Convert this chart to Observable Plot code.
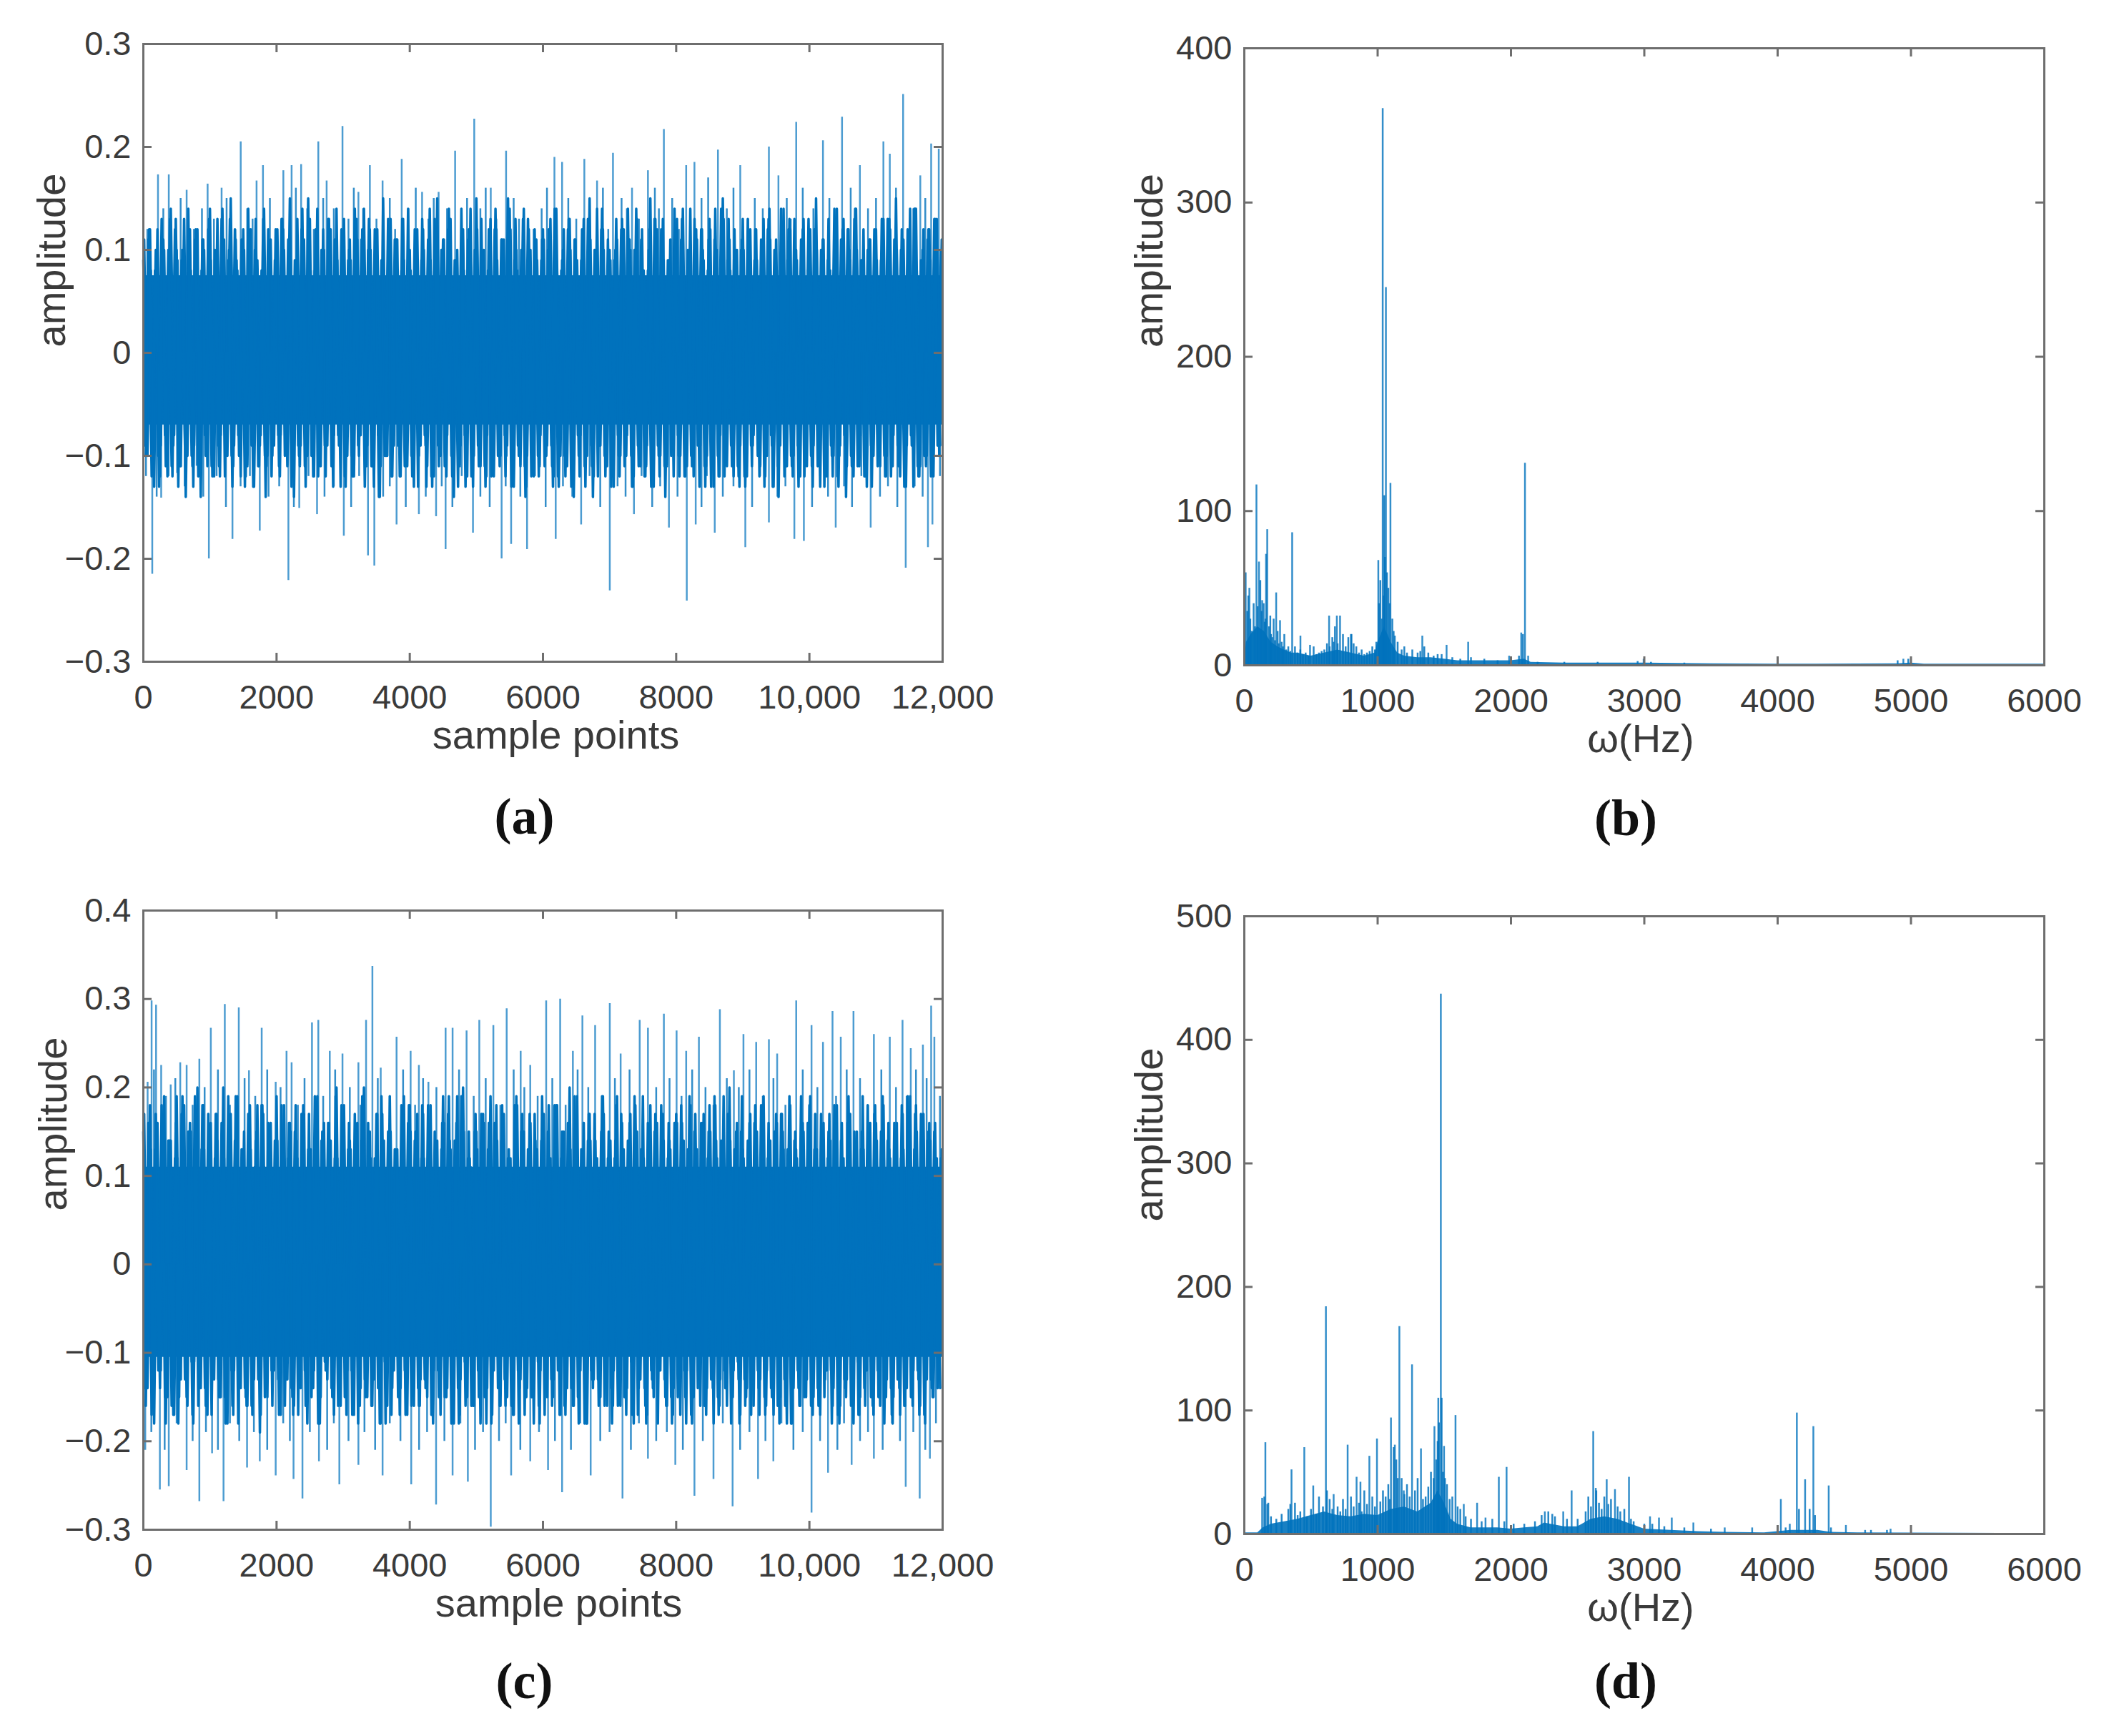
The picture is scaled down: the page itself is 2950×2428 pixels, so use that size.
<!DOCTYPE html>
<html><head><meta charset="utf-8">
<script src="https://cdn.jsdelivr.net/npm/d3@7"></script>
<script src="https://cdn.jsdelivr.net/npm/@observablehq/plot@0.6"></script>
<style>
html,body{margin:0;padding:0;background:#fff}
body{width:2950px;height:2428px;position:relative;overflow:hidden}
.panel{position:absolute}
</style></head><body>
<div id="pa" class="panel" style="left:0;top:0"></div>
<div id="pb" class="panel" style="left:1475px;top:0"></div>
<div id="pc" class="panel" style="left:0;top:1214px"></div>
<div id="pd" class="panel" style="left:1475px;top:1214px"></div>
<script>
// ---------- tick values ----------
const timeTicksX = [0, 2000, 4000, 6000, 8000, 10000, 12000];
const freqTicksX = [0, 1000, 2000, 3000, 4000, 5000, 6000];
const aTicksY = [-0.3, -0.2, -0.1, 0, 0.1, 0.2, 0.3];
const cTicksY = [-0.3, -0.2, -0.1, 0, 0.1, 0.2, 0.3, 0.4];
const bTicksY = [0, 100, 200, 300, 400];
const dTicksY = [0, 100, 200, 300, 400, 500];

// ---------- (a) time signal ----------
// decimated waveforms, one value per 50 samples, in hundredths of amplitude;
// the four traces are read at sample offsets 0, 12, 25 and 37 within each 50-sample step
const waveStep = 50;
const waveOffsets = [0, 12, 25, 37];
const aWave = [
 9,-8,12,-10,8,-12,11,-7,13,-9,10,-11,7,-9,12,-13,9,-8,11,-10,
 14,-9,8,-12,10,-7,13,-11,9,-10,12,-8,11,-13,8,-9,13,-11,10,-8,
 9,-12,12,-9,15,-10,8,-11,11,-8,13,-12,9,-10,12,-7,10,-13,14,-9,
 8,-10,11,-12,13,-8,9,-11,12,-9,10,-14,15,-10,8,-9,11,-12,13,-8,
 10,-11,9,-9,12,-13,14,-10,8,-8,11,-12,13,-9,9,-11,12,-10,10,-13,
 15,-9,9,-12,11,-8,12,-11,8,-10,14,-12,10,-9,13,-13,9,-8,11,-11,
 12,-10,8,-13,14,-9,10,-11,13,-8,9,-12,11,-10,15,-14,8,-9,12,-11,
 10,-8,13,-12,9,-10,11,-13,14,-9,8,-11,12,-8,10,-12,13,-10,9,-9,
 11,-12,14,-10,8,-9,12,-13,10,-11,13,-8,9,-12,15,-10,11,-9,8,-13,
 13,-11,10,-9,12,-12,9,-10,14,-13,11,-8,8,-11,13,-12,10,-9,12,-10,
 9,-13,15,-11,11,-9,8,-12,13,-10,12,-14,10,-8,14,-11,9,-12,11,-10,
 12,-9,10,-12,13,-11,15,-10,9,-13,11,-9,14,-12,10,-11,12,-8,9,-10];
const aWave3 = [
 11,-10,8,-13,12,-9,10,-12,14,-8,9,-11,13,-10,8,-9,12,-14,10,-11,
 9,-12,13,-8,11,-10,15,-9,8,-12,10,-11,12,-13,9,-8,14,-10,11,-9,
 12,-8,10,-11,9,-14,13,-9,11,-10,8,-12,14,-11,10,-9,12,-8,9,-13,
 13,-10,9,-12,11,-8,14,-9,10,-13,12,-11,8,-10,13,-9,11,-12,9,-11,
 8,-13,12,-9,10,-11,9,-12,15,-10,11,-8,13,-14,10,-9,8,-12,14,-10,
 12,-11,10,-8,13,-12,9,-10,11,-9,12,-13,8,-11,14,-10,10,-12,9,-8,
 11,-9,13,-12,8,-10,12,-11,10,-14,9,-8,13,-10,11,-12,14,-9,10,-11,
 9,-13,11,-10,12,-8,10,-12,13,-11,8,-9,15,-13,12,-10,9,-11,11,-12,
 13,-10,8,-11,14,-12,11,-9,9,-10,12,-13,10,-8,13,-11,8,-12,10,-9,
 10,-12,12,-8,9,-11,13,-10,11,-13,8,-9,14,-11,12,-10,9,-12,13,-11,
 12,-9,10,-13,11,-12,8,-10,14,-9,13,-11,9,-12,10,-8,12,-13,11,-10,
 9,-11,13,-10,12,-8,10,-12,11,-9,14,-13,8,-11,12,-10,9,-12,13,-9];
const aWave2 = [
 -9,11,-12,8,-10,13,-8,10,-11,12,-13,9,-9,14,-10,11,-12,8,-8,12,
 -11,10,-9,13,-12,9,-10,12,-8,11,-13,14,-9,10,-11,8,-10,12,-12,9,
 -8,13,-10,11,-13,9,-9,12,-11,15,-10,8,-12,10,-9,13,-11,11,-8,12,
 -12,9,-10,14,-9,11,-13,10,-11,12,-8,9,-10,13,-12,11,-9,8,-11,14,
 -10,12,-13,9,-8,11,-12,13,-9,10,-11,12,-10,9,-13,14,-8,11,-12,10,
 -9,13,-11,8,-12,12,-10,11,-8,15,-13,9,-9,10,-11,13,-12,12,-10,9,
 -11,10,-9,14,-12,8,-10,12,-13,11,-8,9,-11,13,-9,10,-12,12,-10,11,
 -13,9,-8,12,-11,14,-10,10,-9,11,-12,8,-13,13,-9,12,-11,9,-10,14,
 -8,11,-12,10,-10,13,-9,12,-11,8,-13,11,-10,14,-12,9,-9,12,-11,10,
 -12,13,-9,9,-10,11,-13,12,-8,10,-11,14,-12,9,-10,13,-9,11,-12,8,
 -10,12,-11,10,-13,9,-9,14,-12,11,-8,12,-10,13,-11,9,-12,10,-9,12,
 -11,9,-10,13,-12,11,-9,10,-13,12,-8,14,-11,9,-10,11,-12,13,-9,10];
const aWave4 = [
 -10,12,-9,10,-13,11,-11,8,-12,13,-8,10,-14,9,-11,12,-9,11,-10,13,
 -12,9,-11,14,-8,10,-13,11,-10,9,-12,12,-9,13,-11,8,-14,10,-10,12,
 -11,13,-8,10,-12,9,-10,14,-13,11,-9,12,-11,8,-12,13,-10,10,-9,11,
 -13,10,-12,9,-10,12,-8,13,-11,11,-14,9,-10,12,-12,8,-9,13,-11,10,
 -12,11,-10,13,-9,8,-13,12,-11,10,-8,14,-12,9,-10,11,-13,12,-9,10,
 -11,9,-13,12,-10,14,-9,11,-12,8,-11,13,-10,10,-14,12,-8,9,-12,11,
 -9,12,-11,10,-13,9,-12,13,-8,11,-10,12,-13,9,-11,10,-9,14,-12,8,
 -12,10,-10,13,-9,11,-13,8,-11,12,-12,10,-9,13,-10,11,-14,9,-8,12,
 -10,13,-12,9,-11,10,-8,12,-13,11,-10,14,-12,8,-9,13,-11,10,-12,11,
 -13,9,-11,12,-10,10,-12,13,-9,8,-14,11,-10,12,-11,9,-13,10,-8,13,
 -11,12,-9,10,-12,13,-10,8,-13,11,-9,12,-11,14,-10,9,-12,10,-13,11,
 -10,13,-12,9,-8,11,-11,12,-13,10,-9,14,-12,8,-10,12,-11,13,-9,11];
const aCore = [ // [sample, low, high] of the solid centre of the band
 [0,-0.07,0.075],[4000,-0.07,0.075],[8000,-0.07,0.075],[12000,-0.07,0.075]];
const aPeaksUp = [[220,0.173],[382,0.173],[650,0.158],[965,0.164],[1175,0.160],[1462,0.205],[1700,0.167],[1796,0.182],
 [2102,0.177],[2226,0.182],[2369,0.183],[2627,0.205],[2752,0.167],[2990,0.220],[3229,0.156],[3401,0.182],[3592,0.167],
 [3879,0.188],[4185,0.156],[4433,0.156],[4681,0.196],[4968,0.227],[5216,0.160],[5446,0.196],[5713,0.132],[6172,0.190],
 [6287,0.185],[6621,0.188],[6812,0.167],[7051,0.194],[7337,0.160],[7576,0.177],[7815,0.217],[8150,0.182],[8274,0.185],
 [8627,0.197],[8962,0.182],[9392,0.200],[9535,0.172],[9802,0.224],[10204,0.206],[10490,0.229],[10758,0.182],[11111,0.205],
 [11207,0.193],[11407,0.251],[11665,0.172],[11828,0.203],[11942,0.198]];
const aPeaksDown = [[134,-0.215],[268,-0.141],[506,-0.117],[984,-0.200],[1338,-0.181],[1748,-0.173],[2178,-0.221],
 [2341,-0.151],[2608,-0.157],[3010,-0.178],[3373,-0.197],[3468,-0.207],[3802,-0.167],[4137,-0.157],[4395,-0.159],
 [4538,-0.191],[4949,-0.175],[5379,-0.200],[5522,-0.186],[5761,-0.191],[6191,-0.181],[6573,-0.167],[7003,-0.231],
 [7366,-0.157],[7891,-0.170],[8159,-0.241],[8293,-0.167],[8579,-0.175],[9038,-0.189],[9392,-0.165],[9774,-0.181],
 [9917,-0.183],[10395,-0.170],[10920,-0.170],[11446,-0.209],[11780,-0.189],[11847,-0.167]];
const aMidUp = [[60,0.12],[300,0.14],[480,0.13],[560,0.15],[760,0.12],[880,0.14],[1060,0.13],[1250,0.15],[1380,0.12],
 [1560,0.14],[1640,0.13],[1900,0.15],[2000,0.12],[2290,0.16],[2460,0.14],[2560,0.12],[2700,0.15],[2860,0.14],[3080,0.13],
 [3160,0.16],[3300,0.14],[3500,0.13],[3700,0.15],[3780,0.12],[3980,0.14],[4090,0.16],[4280,0.13],[4360,0.15],[4560,0.14],
 [4780,0.12],[4860,0.15],[5060,0.14],[5140,0.16],[5300,0.13],[5560,0.15],[5640,0.13],[5860,0.12],[5980,0.14],[6060,0.16],
 [6380,0.15],[6500,0.13],[6700,0.14],[6900,0.16],[6980,0.12],[7180,0.15],[7260,0.14],[7440,0.13],[7680,0.16],[7740,0.14],
 [7940,0.15],[8040,0.12],[8380,0.15],[8480,0.17],[8760,0.14],[8860,0.16],[9080,0.13],[9180,0.15],[9300,0.14],[9660,0.15],
 [9720,0.13],[9900,0.16],[10060,0.14],[10300,0.15],[10400,0.13],[10620,0.16],[10880,0.14],[11000,0.15],[11300,0.16],
 [11560,0.14],[11740,0.15],[11900,0.13]];
const aMidDown = [[40,-0.12],[200,-0.14],[380,-0.12],[620,-0.13],[800,-0.11],[900,-0.14],[1100,-0.12],[1240,-0.15],
 [1460,-0.13],[1600,-0.12],[1880,-0.14],[2040,-0.13],[2260,-0.15],[2480,-0.12],[2720,-0.14],[2860,-0.13],[3120,-0.15],
 [3240,-0.12],[3600,-0.14],[3700,-0.13],[3940,-0.15],[4040,-0.12],[4240,-0.14],[4480,-0.13],[4640,-0.15],[4780,-0.12],
 [5060,-0.14],[5200,-0.15],[5440,-0.13],[5660,-0.14],[5880,-0.12],[6040,-0.15],[6300,-0.13],[6440,-0.14],[6700,-0.12],
 [6860,-0.15],[7120,-0.13],[7240,-0.14],[7480,-0.12],[7640,-0.15],[7760,-0.13],[8020,-0.14],[8380,-0.15],[8460,-0.12],
 [8700,-0.14],[8860,-0.13],[9140,-0.15],[9260,-0.12],[9520,-0.14],[9640,-0.13],[10040,-0.15],[10160,-0.12],[10280,-0.14],
 [10520,-0.13],[10640,-0.15],[10780,-0.12],[11060,-0.14],[11180,-0.13],[11320,-0.15],[11580,-0.13],[11700,-0.14],[11960,-0.12]];

// ---------- (c) time signal ----------
const cWave = [
 15,-13,18,-16,12,-14,17,-11,14,-17,19,-12,13,-15,16,-18,11,-13,18,-16,
 14,-12,17,-15,20,-14,13,-17,16,-11,12,-16,18,-13,15,-19,17,-14,13,-12,
 19,-15,12,-13,16,-17,14,-12,18,-16,11,-14,17,-18,15,-11,13,-15,20,-13,
 16,-17,14,-12,12,-16,18,-14,15,-13,17,-18,13,-15,19,-12,11,-17,16,-14,
 18,-13,13,-16,17,-12,15,-18,12,-14,19,-15,14,-11,16,-17,20,-13,12,-16,
 15,-14,17,-18,13,-12,18,-16,16,-13,11,-17,19,-14,14,-15,17,-12,13,-18,
 16,-12,12,-15,18,-17,14,-13,20,-16,15,-11,13,-18,17,-14,12,-15,19,-13,
 14,-16,18,-12,11,-17,16,-15,13,-13,19,-18,15,-14,12,-12,17,-16,14,-17,
 17,-13,13,-18,19,-15,12,-12,16,-17,18,-14,14,-16,11,-13,20,-15,15,-18,
 13,-15,16,-11,14,-17,18,-16,12,-13,17,-18,15,-12,19,-14,13,-16,16,-15,
 18,-17,12,-14,15,-12,17,-16,14,-18,11,-15,16,-13,13,-17,19,-12,14,-16,
 16,-13,19,-15,13,-18,15,-14,17,-12,12,-16,18,-17,14,-13,16,-15,12,-11];
const cWave3 = [
 17,-14,13,-18,16,-12,19,-15,14,-17,12,-13,18,-16,15,-11,20,-14,13,-17,
 16,-13,14,-15,12,-18,17,-12,19,-14,15,-16,13,-13,18,-17,11,-15,16,-12,
 14,-17,18,-13,15,-16,12,-14,17,-18,13,-12,19,-15,16,-13,14,-17,12,-16,
 18,-12,13,-17,16,-14,20,-15,12,-13,17,-18,14,-16,15,-12,13,-14,19,-17,
 15,-16,17,-13,12,-15,18,-12,14,-17,16,-14,13,-18,19,-13,15,-15,11,-16,
 13,-18,16,-14,19,-12,14,-16,17,-15,12,-17,18,-13,15,-14,16,-18,13,-12,
 17,-15,12,-13,18,-17,15,-14,13,-16,19,-12,16,-18,14,-13,12,-15,17,-16,
 14,-12,19,-16,13,-14,17,-18,15,-13,12,-17,18,-15,16,-12,14,-16,13,-14,
 16,-17,14,-12,18,-15,13,-16,17,-14,15,-18,12,-13,19,-16,14,-12,16,-17,
 12,-14,17,-16,15,-13,19,-12,14,-17,16,-15,13,-18,18,-14,12,-16,15,-13,
 19,-15,13,-17,16,-12,14,-14,18,-16,12,-13,17,-18,15,-15,13,-12,16,-17,
 14,-16,18,-13,12,-15,16,-17,13,-14,19,-12,15,-16,17,-13,14,-15,12,-14];
const cWave2 = [
 -14,16,-17,13,-12,18,-15,14,-16,12,-18,17,-13,15,-11,19,-16,13,-14,17,
 -17,12,-13,16,-15,19,-12,14,-18,13,-14,17,-16,11,-13,18,-15,16,-12,14,
 -13,18,-16,12,-14,15,-17,17,-12,13,-15,19,-18,14,-11,16,-14,12,-16,18,
 -15,13,-12,17,-18,14,-13,16,-16,12,-14,19,-11,15,-17,13,-15,18,-12,16,
 -16,14,-14,12,-13,18,-17,15,-12,13,-15,17,-18,14,-14,19,-11,12,-16,15,
 -12,17,-15,13,-18,16,-14,14,-13,12,-16,18,-12,15,-17,13,-15,17,-11,14,
 -17,15,-13,18,-12,12,-16,16,-14,19,-15,13,-18,14,-12,17,-13,15,-16,12,
 -14,12,-16,17,-15,14,-11,19,-17,13,-14,16,-12,15,-18,18,-13,12,-15,16,
 -15,18,-12,13,-17,15,-14,16,-16,12,-13,19,-15,14,-12,17,-18,13,-11,15,
 -13,14,-17,16,-12,18,-15,12,-14,15,-16,17,-13,13,-18,14,-12,19,-15,16,
 -16,13,-14,17,-15,12,-12,18,-17,14,-13,16,-16,15,-11,13,-14,18,-15,17,
 -12,15,-18,14,-14,16,-13,12,-16,19,-15,13,-12,17,-17,14,-13,15,-14,12];
const cWave4 = [
 -16,13,-14,17,-12,15,-18,14,-13,16,-15,19,-12,13,-17,15,-14,18,-16,12,
 -13,17,-15,12,-18,14,-16,19,-12,13,-15,16,-17,14,-13,18,-12,15,-16,13,
 -17,14,-12,16,-15,18,-13,12,-16,17,-14,13,-18,15,-12,16,-15,19,-13,14,
 -14,16,-17,13,-12,19,-15,14,-16,12,-13,17,-18,15,-14,13,-12,16,-17,18,
 -12,15,-16,18,-14,13,-17,12,-15,16,-13,19,-14,14,-18,12,-16,15,-12,17,
 -15,12,-13,16,-17,14,-12,18,-16,13,-14,15,-18,17,-13,12,-15,14,-16,19,
 -13,18,-16,14,-12,15,-17,13,-14,16,-18,12,-15,17,-13,14,-16,19,-12,15,
 -18,14,-12,16,-15,13,-17,18,-14,12,-16,15,-13,17,-12,14,-15,16,-18,13,
 -14,16,-15,12,-18,17,-13,14,-16,15,-12,18,-17,13,-14,16,-15,12,-13,19,
 -16,13,-13,18,-14,12,-17,16,-15,14,-12,17,-16,13,-18,15,-14,12,-13,16,
 -12,17,-16,14,-13,15,-18,12,-15,16,-14,19,-12,13,-17,15,-16,14,-13,18,
 -15,12,-14,16,-17,13,-12,18,-16,14,-15,17,-13,12,-18,15,-14,16,-12,13];
const cCore = [
 [0,-0.105,0.11],[4000,-0.105,0.11],[8000,-0.105,0.11],[12000,-0.105,0.11]];
const cPeaksUp = [[64,0.206],[124,0.298],[191,0.293],[268,0.225],[411,0.203],[554,0.228],[650,0.225],[841,0.232],
 [1013,0.267],[1223,0.294],[1433,0.290],[1586,0.219],[1777,0.267],[1987,0.206],[2150,0.241],[2226,0.228],[2532,0.273],
 [2627,0.276],[2799,0.241],[2990,0.238],[3229,0.228],[3344,0.276],[3439,0.337],[3564,0.222],[3802,0.257],[4013,0.241],
 [4137,0.225],[4280,0.206],[4538,0.267],[4643,0.267],[4853,0.264],[5044,0.276],[5255,0.270],[5455,0.289],[5665,0.241],
 [5809,0.225],[6048,0.298],[6258,0.300],[6449,0.241],[6592,0.281],[6783,0.270],[7003,0.295],[7166,0.238],[7452,0.276],
 [7576,0.267],[7815,0.283],[8006,0.264],[8150,0.241],[8341,0.257],[8656,0.288],[8866,0.219],[9010,0.260],[9201,0.251],
 [9392,0.254],[9516,0.238],[9802,0.298],[10032,0.270],[10204,0.251],[10347,0.286],[10471,0.257],[10662,0.286],
 [10968,0.260],[11207,0.257],[11398,0.276],[11522,0.244],[11704,0.248],[11828,0.292],[11876,0.257]];
const cPeaksDown = [[29,-0.210],[248,-0.255],[382,-0.251],[650,-0.233],[841,-0.268],[1032,-0.214],[1204,-0.268],
 [1557,-0.230],[1748,-0.223],[1987,-0.239],[2255,-0.243],[2389,-0.265],[2637,-0.223],[2943,-0.249],[3229,-0.227],
 [3592,-0.239],[4022,-0.249],[4395,-0.272],[4643,-0.239],[4872,-0.246],[5216,-0.297],[5522,-0.239],[5809,-0.223],
 [6076,-0.233],[6287,-0.258],[6716,-0.239],[7194,-0.265],[7576,-0.220],[7987,-0.227],[8274,-0.262],[8560,-0.243],
 [8847,-0.274],[9229,-0.243],[9459,-0.223],[10032,-0.281],[10280,-0.236],[10634,-0.227],[10968,-0.220],[11446,-0.252],
 [11656,-0.265],[11809,-0.220]];
const cMidUp = [[160,0.22],[340,0.19],[480,0.21],[740,0.18],[920,0.20],[1120,0.22],[1300,0.18],[1520,0.21],[1680,0.19],
 [1860,0.22],[2060,0.20],[2320,0.18],[2420,0.21],[2700,0.19],[2880,0.22],[3100,0.20],[3260,0.18],[3520,0.21],[3700,0.19],
 [3900,0.22],[4080,0.18],[4200,0.21],[4400,0.20],[4740,0.22],[4960,0.19],[5140,0.21],[5360,0.18],[5560,0.22],[5720,0.20],
 [5920,0.19],[6140,0.21],[6340,0.18],[6520,0.22],[6680,0.20],[6900,0.19],[7080,0.21],[7300,0.22],[7380,0.18],[7700,0.20],
 [7900,0.21],[8080,0.19],[8240,0.22],[8440,0.20],[8560,0.18],[8760,0.21],[8940,0.20],[9100,0.22],[9300,0.19],[9460,0.21],
 [9640,0.18],[9900,0.22],[10120,0.20],[10400,0.19],[10560,0.22],[10760,0.21],[10880,0.18],[11080,0.22],[11300,0.20],
 [11460,0.19],[11600,0.22],[11760,0.21],[11960,0.19]];
const cMidDown = [[120,-0.19],[320,-0.21],[500,-0.18],[740,-0.20],[940,-0.19],[1120,-0.21],[1300,-0.18],[1440,-0.20],
 [1660,-0.19],[1860,-0.21],[2100,-0.18],[2200,-0.20],[2500,-0.19],[2760,-0.21],[2860,-0.18],[3080,-0.20],[3320,-0.19],
 [3480,-0.21],[3700,-0.18],[3860,-0.20],[4140,-0.21],[4260,-0.19],[4520,-0.20],[4760,-0.18],[4980,-0.21],[5100,-0.19],
 [5340,-0.20],[5440,-0.18],[5660,-0.21],[5940,-0.19],[6180,-0.20],[6420,-0.21],[6560,-0.18],[6860,-0.20],[7000,-0.19],
 [7320,-0.21],[7440,-0.18],[7700,-0.20],[7860,-0.19],[8100,-0.21],[8400,-0.20],[8700,-0.18],[8960,-0.21],[9100,-0.19],
 [9340,-0.20],[9580,-0.18],[9760,-0.21],[9900,-0.19],[10160,-0.20],[10420,-0.21],[10520,-0.18],[10760,-0.20],[10880,-0.19],
 [11100,-0.21],[11240,-0.18],[11360,-0.20],[11560,-0.19],[11740,-0.21],[11900,-0.18]];

// ---------- (b) spectrum: [Hz, amplitude] ----------
const bPeaks = [[0,142],[38,50],[91,117],[110,67],[134,42],[163,72],[172,88],[239,47],[268,29],[359,86],[421,19],
 [493,13],[636,32],[694,32],[718,32],[804,20],[1005,68],[1038,361],[1062,245],[1096,118],[1129,19],[1335,19],[1517,13],
 [1679,15],[1986,6],[2077,21],[2105,131],[2129,6],[2995,4],[4943,4]];
const bSmall = [[10,60],[22,35],[30,45],[45,30],[55,22],[70,40],[80,25],[100,38],[120,55],[130,35],[145,40],[152,28],
 [160,30],[185,25],[195,32],[200,20],[210,18],[220,30],[230,16],[250,22],[258,14],[280,15],[290,12],[300,20],[315,10],
 [330,12],[345,9],[380,12],[400,8],[420,10],[440,7],[460,8],[480,6],[520,12],[540,7],[560,8],[580,9],[600,10],[620,14],
 [640,12],[660,18],[670,15],[680,25],[700,14],[740,20],[760,12],[780,18],[800,20],[820,14],[840,12],[860,8],[880,10],
 [900,7],[920,8],[940,9],[960,12],[980,10],[990,15],[1010,40],[1020,55],[1030,30],[1045,45],[1050,110],[1055,70],
 [1070,60],[1080,50],[1090,40],[1110,30],[1120,22],[1150,15],[1180,10],[1200,12],[1220,8],[1260,10],[1300,8],[1320,9],
 [1350,12],[1380,8],[1420,6],[1450,7],[1480,7],[1560,5],[1620,4],[1700,5],[1800,4],[1900,3],[2000,5],[2060,6],[2090,20],
 [2200,2],[2400,2],[2650,2],[2950,2.5],[3050,2],[3300,1.5],[4900,3],[4980,4]];
const bFloor = [[0,2],[15,15],[50,20],[100,25],[150,22],[200,15],[250,12],[300,10],[350,8],[400,8],[500,6],[600,8],
 [700,10],[800,8],[900,6],[980,8],[1000,15],[1050,25],[1100,15],[1150,8],[1200,6],[1300,5],[1400,5],[1500,4],[1600,3],
 [1800,3],[2000,3],[2100,4],[2150,2],[2400,1.5],[3000,1.5],[3500,1],[4000,0.8],[4900,1],[5000,1.5],[5100,0.8],[6000,0.8]];

// ---------- (d) spectrum ----------
const dPeaks = [[0,74],[158,74],[172,24],[134,29],[354,52],[450,70],[517,39],[612,184],[670,32],[775,72],[842,46],
 [871,42],[938,63],[995,77],[1100,94],[1129,72],[1163,168],[1196,35],[1258,137],[1325,69],[1426,87],[1455,110],[1474,437],
 [1498,71],[1584,96],[1646,24],[1746,25],[1809,13],[1909,46],[1967,54],[2254,18],[2392,18],[2455,35],[2617,83],[2636,37],
 [2718,44],[2780,36],[2885,46],[3043,14],[3110,13],[3206,13],[3368,9],[3603,5],[3809,5],[4024,28],[4091,8],[4144,98],
 [4206,44],[4268,87],[4383,39],[4512,7],[4656,3],[4847,4]];
const dSmall = [[150,30],[180,25],[200,14],[240,12],[280,16],[330,20],[345,24],[380,25],[400,15],[420,18],[470,14],
 [500,20],[540,16],[560,30],[590,22],[620,35],[640,28],[660,20],[700,22],[720,18],[740,28],[760,20],[800,30],[820,22],
 [860,25],[880,18],[900,35],[920,24],[960,30],[980,22],[1020,26],[1040,35],[1060,30],[1080,40],[1090,28],[1120,70],
 [1140,60],[1150,45],[1180,45],[1200,32],[1220,40],[1240,30],[1280,35],[1300,45],[1340,28],[1360,30],[1380,38],[1400,50],
 [1420,45],[1440,60],[1450,75],[1460,90],[1480,110],[1490,50],[1505,45],[1520,40],[1540,28],[1560,30],[1600,22],[1620,20],
 [1660,14],[1700,12],[1780,10],[1860,12],[1950,10],[2020,8],[2100,8],[2180,10],[2230,15],[2280,18],[2310,16],[2330,14],
 [2420,12],[2500,12],[2560,18],[2580,30],[2600,22],[2640,35],[2660,25],[2680,20],[2700,30],[2730,24],[2750,28],[2800,22],
 [2820,18],[2850,20],[2900,12],[2920,10],[3000,8],[3060,8],[3150,6],[3300,5],[3500,4],[4060,5],[4160,20],[4240,20],
 [4280,15],[4400,5],[4700,3],[4820,3]];
const dFloor = [[0,1],[100,1],[140,5],[200,8],[300,10],[400,12],[500,15],[600,18],[700,15],[800,14],[900,16],[1000,15],
 [1100,20],[1200,22],[1300,18],[1400,25],[1450,35],[1500,25],[1550,12],[1600,8],[1700,5],[1900,5],[2000,4],[2100,5],
 [2200,6],[2250,9],[2300,8],[2400,6],[2500,6],[2600,12],[2700,14],[2800,12],[2900,8],[3000,4],[3200,3],[3400,2],
 [3600,1.5],[3900,1],[4000,2],[4100,3],[4300,3],[4400,1.5],[4600,1],[5000,0.8],[6000,0.5]];

// ---------- styling ----------
const BLUE = "#0072BD";
const AXIS = "#6e6e6e";
const TEXT = "#3a3a3a";
const SANS = "'Liberation Sans', Arial, Helvetica, sans-serif";
const SERIF = "'Liberation Serif', 'Times New Roman', serif";
const W = 1475, H = 1214;

function fmt(d) {
  const s = Math.abs(d) >= 10000 ? d3.format(",")(d) : String(+d.toFixed(6));
  return s.replace("-", "\u2212");
}

function spikes(data, opts = {}) {
  return Plot.ruleX(data, {x: d => d[0], y1: 0, y2: d => d[1], stroke: BLUE,
    strokeWidth: opts.w ?? 2.5, strokeOpacity: opts.o ?? 0.75});
}

function panel(cfg) {
  const pw = W - cfg.ml - cfg.mr, ph = H - cfg.mt - cfg.mb, tl = 12;
  return Plot.plot({
    width: W, height: H,
    marginLeft: cfg.ml, marginRight: cfg.mr, marginTop: cfg.mt, marginBottom: cfg.mb,
    style: {fontFamily: SANS, fontSize: "47px", color: TEXT, background: "transparent", overflow: "visible"},
    x: {domain: cfg.xDomain},
    y: {domain: cfg.yDomain},
    marks: [
      ...cfg.marks,
      Plot.frame({stroke: AXIS, strokeWidth: 3}),
      Plot.tickX(cfg.xTicks, {x: d => d, insetTop: ph - tl, stroke: AXIS, strokeWidth: 3}),
      Plot.tickX(cfg.xTicks, {x: d => d, insetBottom: ph - tl, stroke: AXIS, strokeWidth: 3}),
      Plot.tickY(cfg.yTicks, {y: d => d, insetRight: pw - tl, stroke: AXIS, strokeWidth: 3}),
      Plot.tickY(cfg.yTicks, {y: d => d, insetLeft: pw - tl, stroke: AXIS, strokeWidth: 3}),
      Plot.axisX(cfg.xTicks, {tickSize: 0, tickPadding: 32, tickFormat: fmt, label: null}),
      Plot.axisY(cfg.yTicks, {tickSize: 0, tickPadding: 17, tickFormat: fmt, label: null}),
      Plot.text([cfg.xlabel], {text: d => d, frameAnchor: "bottom", lineAnchor: "middle", dy: 104, dx: cfg.xlabelDx,
        fontSize: 56, fill: TEXT}),
      Plot.text(["amplitude"], {text: d => d, frameAnchor: "left", lineAnchor: "middle", dx: -cfg.ylabelOff, dy: cfg.ylabelDy,
        rotate: -90, fontSize: 56, fill: TEXT}),
      Plot.text([cfg.letter], {text: d => d, frameAnchor: "bottom", lineAnchor: "middle", dy: cfg.letterDy, dx: -26,
        fontSize: 72, fontWeight: "bold", fontFamily: SERIF, fill: "#111"})
    ]
  });
}

function timeMarks(core, waves, midUp, midDown, up, down) {
  return [
    Plot.areaY(core, {x: d => d[0], y1: d => d[1], y2: d => d[2], fill: BLUE, curve: "linear"}),
    ...waves.map((wave, k) => Plot.lineY(wave, {x: (d, i) => i * waveStep + waveOffsets[k], y: d => d / 100,
      stroke: BLUE, strokeWidth: 3.5, curve: "linear"})),
    spikes(midUp, {w: 2.5, o: 0.8}),
    spikes(midDown, {w: 2.5, o: 0.8}),
    spikes(up, {w: 2.5, o: 0.7}),
    spikes(down, {w: 2.5, o: 0.7})
  ];
}

function freqMarks(floor, small, peaks) {
  return [
    Plot.areaY(floor, {x: d => d[0], y1: 0, y2: d => d[1], fill: BLUE, fillOpacity: 0.9, curve: "linear"}),
    Plot.lineY(floor, {x: d => d[0], y: 0, stroke: BLUE, strokeWidth: 3}),
    spikes(small, {w: 2.5, o: 0.85}),
    spikes(peaks, {w: 2.5, o: 0.8})
  ];
}

document.getElementById("pa").append(panel({
  ml: 200, mr: W - 1318, mt: 61, mb: H - 925,
  xDomain: [0, 12000], yDomain: [-0.3, 0.3], xTicks: timeTicksX, yTicks: aTicksY,
  xlabel: "sample points", xlabelDx: 18, ylabelOff: 127, ylabelDy: -8, letter: "(a)", letterDy: 217,
  marks: timeMarks(aCore, [aWave, aWave3, aWave2, aWave4], aMidUp, aMidDown, aPeaksUp, aPeaksDown)
}));
document.getElementById("pb").append(panel({
  ml: 1740 - 1475, mr: W - (2859 - 1475), mt: 67, mb: H - 930,
  xDomain: [0, 6000], yDomain: [0, 400], xTicks: freqTicksX, yTicks: bTicksY,
  xlabel: "ω(Hz)", xlabelDx: -5, ylabelOff: 132, ylabelDy: -13, letter: "(b)", letterDy: 214,
  marks: freqMarks(bFloor, bSmall, bPeaks)
}));
document.getElementById("pc").append(panel({
  ml: 200, mr: W - 1318, mt: 1273 - 1214, mb: H - (2139 - 1214),
  xDomain: [0, 12000], yDomain: [-0.3, 0.4], xTicks: timeTicksX, yTicks: cTicksY,
  xlabel: "sample points", xlabelDx: 22, ylabelOff: 125, ylabelDy: -13, letter: "(c)", letterDy: 212,
  marks: timeMarks(cCore, [cWave, cWave3, cWave2, cWave4], cMidUp, cMidDown, cPeaksUp, cPeaksDown)
}));
document.getElementById("pd").append(panel({
  ml: 1740 - 1475, mr: W - (2859 - 1475), mt: 1281 - 1214, mb: H - (2145 - 1214),
  xDomain: [0, 6000], yDomain: [0, 500], xTicks: freqTicksX, yTicks: dTicksY,
  xlabel: "ω(Hz)", xlabelDx: -5, ylabelOff: 132, ylabelDy: -5, letter: "(d)", letterDy: 206,
  marks: freqMarks(dFloor, dSmall, dPeaks)
}));
</script>
</body></html>
